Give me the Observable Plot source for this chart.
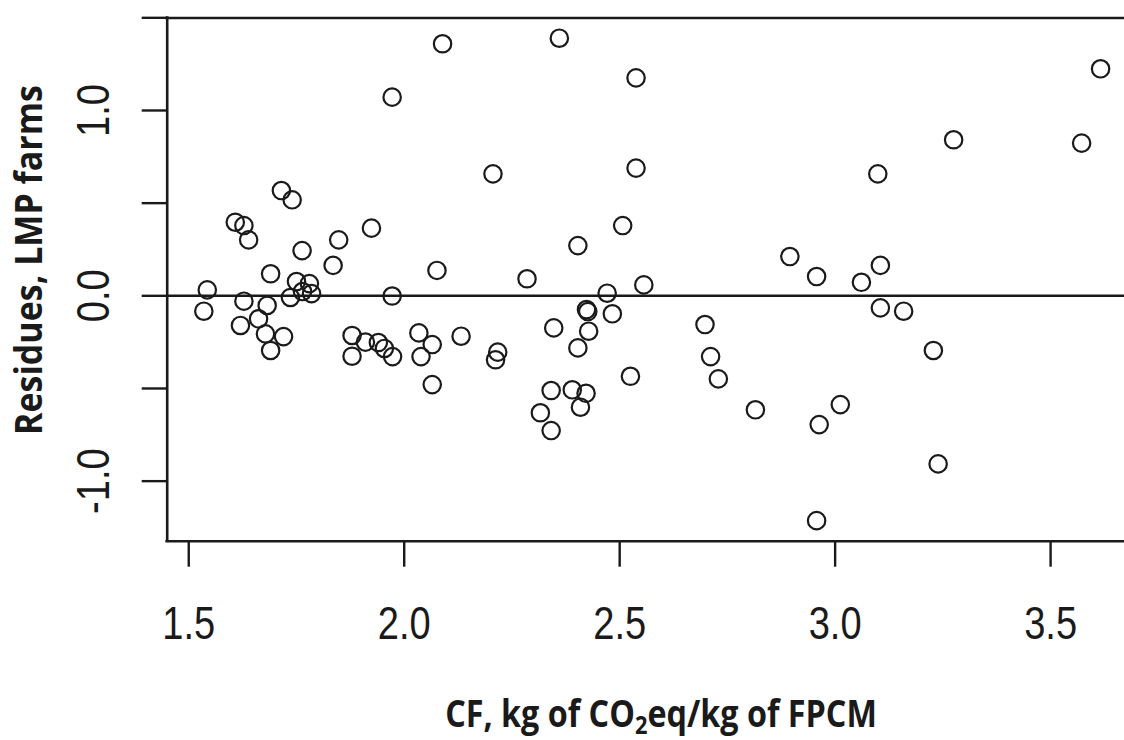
<!DOCTYPE html>
<html>
<head>
<meta charset="utf-8">
<script src="https://cdn.jsdelivr.net/npm/d3@7"></script>
<script src="https://cdn.jsdelivr.net/npm/@observablehq/plot@0.6"></script>
<style>
  html, body { margin: 0; padding: 0; background: #fff; overflow: hidden; }
</style>
</head>
<body>
<div id="chart"></div>
<script>
// Carbon footprint (kg CO2eq / kg FPCM) of each LMP farm and its model residue
const cf = [
  1.535, 1.543, 1.608, 1.620, 1.628, 1.628, 1.639, 1.662, 1.678, 1.682,
  1.690, 1.690, 1.715, 1.720, 1.736, 1.740, 1.750, 1.763, 1.764, 1.780,
  1.785, 1.835, 1.848, 1.879, 1.879, 1.910, 1.924, 1.940, 1.954, 1.972,
  1.972, 1.973, 2.034, 2.039, 2.065, 2.065, 2.076, 2.089, 2.132, 2.206,
  2.212, 2.217, 2.285, 2.316, 2.341, 2.341, 2.347, 2.360, 2.390, 2.403,
  2.403, 2.409, 2.422, 2.423, 2.426, 2.428, 2.471, 2.483, 2.507, 2.525,
  2.538, 2.538, 2.556, 2.698, 2.711, 2.729, 2.815, 2.895, 2.957, 2.957,
  2.963, 3.012, 3.061, 3.099, 3.105, 3.105, 3.159, 3.228, 3.239, 3.275,
  3.572, 3.616
];
const residues = [
  -0.083, 0.032, 0.397, -0.160, 0.379, -0.029, 0.302, -0.124, -0.205, -0.052,
  0.119, -0.295, 0.568, -0.220, -0.009, 0.518, 0.077, 0.244, 0.023, 0.066,
  0.012, 0.164, 0.302, -0.214, -0.326, -0.250, 0.365, -0.252, -0.284, -0.001,
  1.072, -0.328, -0.200, -0.328, -0.263, -0.479, 0.137, 1.360, -0.218, 0.658,
  -0.345, -0.304, 0.092, -0.631, -0.511, -0.727, -0.173, 1.390, -0.507, -0.281,
  0.271, -0.601, -0.526, -0.074, -0.085, -0.191, 0.014, -0.097, 0.379, -0.434,
  1.176, 0.689, 0.059, -0.155, -0.328, -0.448, -0.615, 0.212, 0.104, -1.213,
  -0.695, -0.587, 0.073, 0.658, 0.164, -0.065, -0.083, -0.295, -0.907, 0.842,
  0.824, 1.225
];

const xTicks = [1.5, 2.0, 2.5, 3.0, 3.5];
const yTicks = [-1.0, -0.5, 0.0, 0.5, 1.0, 1.5];
const yLabelled = [-1.0, 0.0, 1.0];
const xTitleParts = ["CF, kg of CO", "2", "eq/kg of FPCM"];
const yTitle = "Residues, LMP farms";

const farms = cf.map((x, i) => ({cf: x, residue: residues[i]}));

const xDomain = [1.45, 3.6715];
const yDomain = [-1.324, 1.499];
const ink = "#1a1a1a";

const plot = Plot.plot({
  width: 1124,
  height: 740,
  marginLeft: 166.7,
  marginRight: 0,
  marginTop: 17.5,
  marginBottom: 199.3,
  x: {domain: xDomain},
  y: {domain: yDomain},
  style: {background: "#fff", color: ink, fontFamily: "'Liberation Sans', Arial, sans-serif"},
  marks: [
    Plot.axisX({ticks: xTicks, tickSize: 26, tickPadding: 38, tickFormat: d => d.toFixed(1),
      fontSize: 47, stroke: ink, strokeWidth: 2.4, fill: ink, label: null}),
    Plot.axisY({ticks: yTicks, tickSize: 25, tickPadding: 33.7, tickRotate: -90,
      tickFormat: d => yLabelled.includes(d) ? d.toFixed(1) : "",
      fontSize: 47, stroke: ink, strokeWidth: 2.4, fill: ink, label: null}),
    // zero reference line
    Plot.ruleY([0], {stroke: ink, strokeWidth: 2.4}),
    // box around the plotting region (the right side falls outside the page)
    Plot.ruleY(yDomain, {stroke: ink, strokeWidth: 2.6, strokeLinecap: "square"}),
    Plot.ruleX([xDomain[0]], {stroke: ink, strokeWidth: 2.6, strokeLinecap: "square"}),
    Plot.dot(farms, {x: "cf", y: "residue", r: 8.7, stroke: ink, strokeWidth: 2.2, fill: "none"})
  ]
});

document.getElementById("chart").append(plot);

// narrow the tick numerals
plot.querySelectorAll('g[aria-label$="tick label"] text').forEach(t => {
  const w = t.getComputedTextLength();
  if (w > 0) {
    t.setAttribute("textLength", (w * 0.81).toFixed(1));
    t.setAttribute("lengthAdjust", "spacingAndGlyphs");
  }
});

// axis titles, squeezed horizontally to a condensed bold face
const svg = d3.select(plot);
const titleFont = "'Open Sans', 'Liberation Sans', sans-serif";

function squeeze(sel, tx, ty, rotate, targetWidth) {
  const w = sel.node().getBBox().width;
  const k = targetWidth / w;
  sel.attr("transform", `translate(${tx},${ty})${rotate ? ` rotate(${rotate})` : ""} scale(${k.toFixed(4)},1)`);
}

const xt = svg.append("text")
  .attr("text-anchor", "middle")
  .attr("font-family", titleFont).attr("font-weight", 700).attr("font-size", 37)
  .attr("fill", ink);
xt.append("tspan").text(xTitleParts[0]);
xt.append("tspan").attr("font-size", 25).attr("dy", 7).text(xTitleParts[1]);
xt.append("tspan").attr("dy", -7).text(xTitleParts[2]);
squeeze(xt, 661, 727, 0, 432);

const yt = svg.append("text")
  .attr("text-anchor", "middle")
  .attr("font-family", titleFont).attr("font-weight", 700).attr("font-size", 37)
  .attr("fill", ink)
  .text(yTitle);
squeeze(yt, 42, 260, -90, 350);
</script>
</body>
</html>
